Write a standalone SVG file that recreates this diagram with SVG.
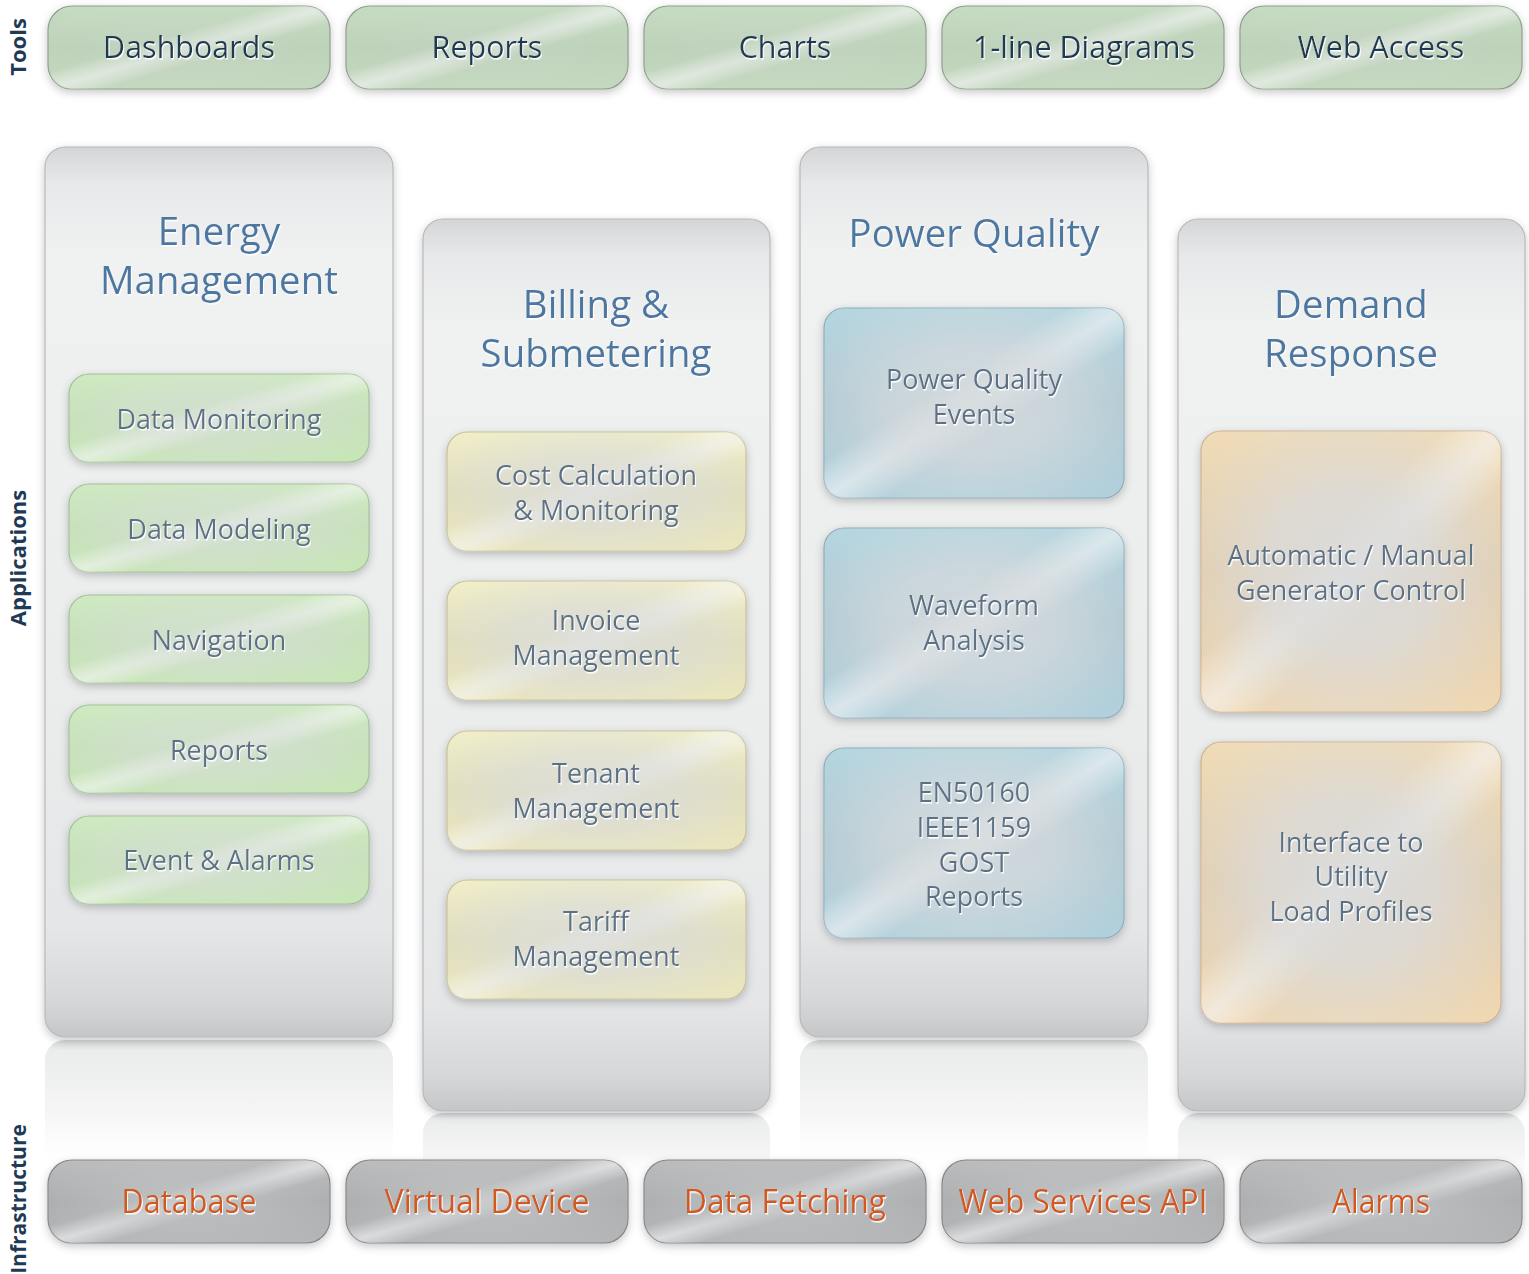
<svg xmlns="http://www.w3.org/2000/svg" width="1529" height="1274" viewBox="0 0 1529 1274">
<defs>
  <filter id="shadow" x="-10%" y="-10%" width="120%" height="130%">
    <feDropShadow dx="0" dy="3" stdDeviation="4" flood-color="#000" flood-opacity="0.22"/>
  </filter>
  <filter id="tshadow" x="-5%" y="-20%" width="110%" height="150%">
    <feDropShadow dx="1" dy="1.6" stdDeviation="0.4" flood-color="#ffffff" flood-opacity="0.95"/>
  </filter>
  <linearGradient id="colG" x1="0" y1="0" x2="0" y2="1">
    <stop offset="0" stop-color="#d4d5d7"/>
    <stop offset="0.04" stop-color="#e7e8e9"/>
    <stop offset="0.12" stop-color="#f0f1f1"/>
    <stop offset="0.6" stop-color="#ebecec"/>
    <stop offset="0.88" stop-color="#e5e6e7"/>
    <stop offset="0.96" stop-color="#d6d7d9"/>
    <stop offset="1" stop-color="#c5c6c8"/>
  </linearGradient>
  <linearGradient id="reflG" x1="0" y1="0" x2="0" y2="1">
    <stop offset="0" stop-color="#d8d9db"/>
    <stop offset="0.08" stop-color="#ebecec"/>
    <stop offset="0.6" stop-color="#f6f6f6"/>
    <stop offset="1" stop-color="#ffffff" stop-opacity="0"/>
  </linearGradient>
  <linearGradient id="streak" x1="0" y1="0" x2="1" y2="1">
    <stop offset="0" stop-color="#ffffff" stop-opacity="0"/>
    <stop offset="0.4" stop-color="#ffffff" stop-opacity="0"/>
    <stop offset="0.5" stop-color="#f4f5f6" stop-opacity="0.6"/>
    <stop offset="0.6" stop-color="#ffffff" stop-opacity="0"/>
    <stop offset="1" stop-color="#ffffff" stop-opacity="0"/>
  </linearGradient>
  <radialGradient id="centerGrey" cx="0.5" cy="0.5" r="0.62">
    <stop offset="0" stop-color="#dadcde" stop-opacity="1"/>
    <stop offset="0.45" stop-color="#dadcde" stop-opacity="0.85"/>
    <stop offset="1" stop-color="#dadcde" stop-opacity="0"/>
  </radialGradient>
  <radialGradient id="centerGreyTool" cx="0.5" cy="0.5" r="0.62">
    <stop offset="0" stop-color="#d0d6cf" stop-opacity="0.35"/>
    <stop offset="1" stop-color="#d0d6cf" stop-opacity="0"/>
  </radialGradient>
  <linearGradient id="green" x1="0" y1="0" x2="0" y2="1">
    <stop offset="0" stop-color="#cfeac2"/>
    <stop offset="0.5" stop-color="#c4e2b4"/>
    <stop offset="1" stop-color="#c8e6b8"/>
  </linearGradient>
  <linearGradient id="toolGreen" x1="0" y1="0" x2="0" y2="1">
    <stop offset="0" stop-color="#c6dcc2"/>
    <stop offset="0.5" stop-color="#bcd2b8"/>
    <stop offset="1" stop-color="#c4d9bf"/>
  </linearGradient>
  <linearGradient id="yellow" x1="0" y1="0" x2="0" y2="1">
    <stop offset="0" stop-color="#f0eecb"/>
    <stop offset="0.5" stop-color="#e4e0b6"/>
    <stop offset="1" stop-color="#eae6bf"/>
  </linearGradient>
  <linearGradient id="blue" x1="0" y1="0" x2="0" y2="1">
    <stop offset="0" stop-color="#b6d6e0"/>
    <stop offset="0.5" stop-color="#a9c7d2"/>
    <stop offset="1" stop-color="#b3d1dc"/>
  </linearGradient>
  <linearGradient id="orange" x1="0" y1="0" x2="0" y2="1">
    <stop offset="0" stop-color="#f0dcb8"/>
    <stop offset="0.5" stop-color="#e4cca8"/>
    <stop offset="1" stop-color="#efd8b4"/>
  </linearGradient>
  <linearGradient id="grey" x1="0" y1="0" x2="0" y2="1">
    <stop offset="0" stop-color="#bcbdbf"/>
    <stop offset="0.5" stop-color="#aaabad"/>
    <stop offset="1" stop-color="#b6b7b9"/>
  </linearGradient>
  <radialGradient id="greyCenter" cx="0.5" cy="0.5" r="0.6">
    <stop offset="0" stop-color="#c6c7c9" stop-opacity="0.8"/>
    <stop offset="1" stop-color="#c6c7c9" stop-opacity="0"/>
  </radialGradient>
  <style>
    .col { fill: url(#colG); stroke: #b7b8ba; stroke-width: 1.2; filter: url(#shadow); }
    .refl { fill: url(#reflG); }
    .tool { fill: url(#toolGreen); stroke: #8e9e8c; stroke-width: 1.2; }
    .infra { fill: url(#grey); stroke: #858688; stroke-width: 1.2; }
    .itG { fill: url(#green); stroke: #9fbf98; stroke-width: 1.2; }
    .itY { fill: url(#yellow); stroke: #c6bf98; stroke-width: 1.2; }
    .itB { fill: url(#blue); stroke: #8eadbb; stroke-width: 1.2; }
    .itO { fill: url(#orange); stroke: #cdb193; stroke-width: 1.2; }
    .st { fill: url(#streak); }
    .cg { fill: url(#centerGrey); }
    .cgt { fill: url(#centerGreyTool); }
    .gc { fill: url(#greyCenter); }
    .shd { filter: url(#shadow); }
    text { font-family: "Open Sans", "Noto Sans", sans-serif; text-anchor: middle; filter: url(#tshadow); }
    .tt { font-size: 30.5px; fill: #1f3a52; }
    .ct { font-size: 38.5px; fill: #4b77a1; }
    .it { font-size: 27px; fill: #5b7186; }
    .inf { font-size: 32px; fill: #d2581c; }
    .side { font-size: 22px; font-weight: bold; fill: #1f3a55; filter: none; }
  </style>
</defs>

<rect width="1529" height="1274" fill="#ffffff"/>

<!-- side labels -->
<g id="side-labels">
  <text class="side" transform="translate(26,47) rotate(-90)">Tools</text>
  <text class="side" transform="translate(26,558) rotate(-90)">Applications</text>
  <text class="side" transform="translate(26,1199) rotate(-90)" style="font-size:21px">Infrastructure</text>
</g>

<!-- reflections -->
<g id="reflections">
  <rect class="refl" x="45" y="1040" width="348" height="130" rx="20"/>
  <rect class="refl" x="800" y="1040" width="348" height="130" rx="20"/>
  <rect class="refl" x="423" y="1113" width="347" height="70" rx="20"/>
  <rect class="refl" x="1178" y="1113" width="347" height="70" rx="20"/>
</g>

<!-- tools row -->
<g id="tool-dashboards">
  <g class="shd"><rect class="tool" x="48" y="6" width="282" height="83" rx="24"/></g>
  <rect class="st" x="48" y="6" width="282" height="83" rx="24"/>
  <rect class="cgt" x="48" y="6" width="282" height="83" rx="24"/>
  <text class="tt" x="189" y="58">Dashboards</text>
</g>
<g id="tool-reports">
  <g class="shd"><rect class="tool" x="346" y="6" width="282" height="83" rx="24"/></g>
  <rect class="st" x="346" y="6" width="282" height="83" rx="24"/>
  <rect class="cgt" x="346" y="6" width="282" height="83" rx="24"/>
  <text class="tt" x="487" y="58">Reports</text>
</g>
<g id="tool-charts">
  <g class="shd"><rect class="tool" x="644" y="6" width="282" height="83" rx="24"/></g>
  <rect class="st" x="644" y="6" width="282" height="83" rx="24"/>
  <rect class="cgt" x="644" y="6" width="282" height="83" rx="24"/>
  <text class="tt" x="785" y="58">Charts</text>
</g>
<g id="tool-1line">
  <g class="shd"><rect class="tool" x="942" y="6" width="282" height="83" rx="24"/></g>
  <rect class="st" x="942" y="6" width="282" height="83" rx="24"/>
  <rect class="cgt" x="942" y="6" width="282" height="83" rx="24"/>
  <text class="tt" x="1084" y="58">1-line Diagrams</text>
</g>
<g id="tool-webaccess">
  <g class="shd"><rect class="tool" x="1240" y="6" width="282" height="83" rx="24"/></g>
  <rect class="st" x="1240" y="6" width="282" height="83" rx="24"/>
  <rect class="cgt" x="1240" y="6" width="282" height="83" rx="24"/>
  <text class="tt" x="1381" y="58">Web Access</text>
</g>

<!-- columns -->
<g id="col-energy">
  <rect class="col" x="45" y="147" width="348" height="890" rx="20"/>
  <text class="ct" x="219" y="245">Energy</text>
  <text class="ct" x="219" y="294">Management</text>
</g>
<g id="col-billing">
  <rect class="col" x="423" y="219" width="347" height="892" rx="20"/>
  <text class="ct" x="596" y="318">Billing &amp;</text>
  <text class="ct" x="596" y="367">Submetering</text>
</g>
<g id="col-pq">
  <rect class="col" x="800" y="147" width="348" height="890" rx="20"/>
  <text class="ct" x="974" y="247">Power Quality</text>
</g>
<g id="col-demand">
  <rect class="col" x="1178" y="219" width="347" height="892" rx="20"/>
  <text class="ct" x="1351" y="318">Demand</text>
  <text class="ct" x="1351" y="367">Response</text>
</g>

<!-- energy items -->
<g id="em-data-monitoring">
  <g class="shd"><rect class="itG" x="69" y="374" width="300" height="88" rx="20"/></g>
  <rect class="st" x="69" y="374" width="300" height="88" rx="20"/>
  <rect class="cg" x="69" y="374" width="300" height="88" rx="20" opacity="0.55"/>
  <text class="it" x="219" y="429">Data Monitoring</text>
</g>
<g id="em-data-modeling">
  <g class="shd"><rect class="itG" x="69" y="484" width="300" height="88" rx="20"/></g>
  <rect class="st" x="69" y="484" width="300" height="88" rx="20"/>
  <rect class="cg" x="69" y="484" width="300" height="88" rx="20" opacity="0.55"/>
  <text class="it" x="219" y="539">Data Modeling</text>
</g>
<g id="em-navigation">
  <g class="shd"><rect class="itG" x="69" y="595" width="300" height="88" rx="20"/></g>
  <rect class="st" x="69" y="595" width="300" height="88" rx="20"/>
  <rect class="cg" x="69" y="595" width="300" height="88" rx="20" opacity="0.55"/>
  <text class="it" x="219" y="650">Navigation</text>
</g>
<g id="em-reports">
  <g class="shd"><rect class="itG" x="69" y="705" width="300" height="88" rx="20"/></g>
  <rect class="st" x="69" y="705" width="300" height="88" rx="20"/>
  <rect class="cg" x="69" y="705" width="300" height="88" rx="20" opacity="0.55"/>
  <text class="it" x="219" y="760">Reports</text>
</g>
<g id="em-event-alarms">
  <g class="shd"><rect class="itG" x="69" y="816" width="300" height="88" rx="20"/></g>
  <rect class="st" x="69" y="816" width="300" height="88" rx="20"/>
  <rect class="cg" x="69" y="816" width="300" height="88" rx="20" opacity="0.55"/>
  <text class="it" x="219" y="870">Event &amp; Alarms</text>
</g>

<!-- billing items -->
<g id="bs-cost">
  <g class="shd"><rect class="itY" x="447" y="432" width="299" height="119" rx="20"/></g>
  <rect class="st" x="447" y="432" width="299" height="119" rx="20"/>
  <rect class="cg" x="447" y="432" width="299" height="119" rx="20" opacity="0.75"/>
  <text class="it" x="596" y="485">Cost Calculation</text>
  <text class="it" x="596" y="520">&amp; Monitoring</text>
</g>
<g id="bs-invoice">
  <g class="shd"><rect class="itY" x="447" y="581" width="299" height="119" rx="20"/></g>
  <rect class="st" x="447" y="581" width="299" height="119" rx="20"/>
  <rect class="cg" x="447" y="581" width="299" height="119" rx="20" opacity="0.75"/>
  <text class="it" x="596" y="630">Invoice</text>
  <text class="it" x="596" y="665">Management</text>
</g>
<g id="bs-tenant">
  <g class="shd"><rect class="itY" x="447" y="731" width="299" height="119" rx="20"/></g>
  <rect class="st" x="447" y="731" width="299" height="119" rx="20"/>
  <rect class="cg" x="447" y="731" width="299" height="119" rx="20" opacity="0.75"/>
  <text class="it" x="596" y="783">Tenant</text>
  <text class="it" x="596" y="818">Management</text>
</g>
<g id="bs-tariff">
  <g class="shd"><rect class="itY" x="447" y="880" width="299" height="119" rx="20"/></g>
  <rect class="st" x="447" y="880" width="299" height="119" rx="20"/>
  <rect class="cg" x="447" y="880" width="299" height="119" rx="20" opacity="0.75"/>
  <text class="it" x="596" y="931">Tariff</text>
  <text class="it" x="596" y="966">Management</text>
</g>

<!-- power quality items -->
<g id="pq-events">
  <g class="shd"><rect class="itB" x="824" y="308" width="300" height="190" rx="20"/></g>
  <rect class="st" x="824" y="308" width="300" height="190" rx="20"/>
  <rect class="cg" x="824" y="308" width="300" height="190" rx="20" opacity="0.8"/>
  <text class="it" x="974" y="389">Power Quality</text>
  <text class="it" x="974" y="424">Events</text>
</g>
<g id="pq-waveform">
  <g class="shd"><rect class="itB" x="824" y="528" width="300" height="190" rx="20"/></g>
  <rect class="st" x="824" y="528" width="300" height="190" rx="20"/>
  <rect class="cg" x="824" y="528" width="300" height="190" rx="20" opacity="0.8"/>
  <text class="it" x="974" y="615">Waveform</text>
  <text class="it" x="974" y="650">Analysis</text>
</g>
<g id="pq-standards">
  <g class="shd"><rect class="itB" x="824" y="748" width="300" height="190" rx="20"/></g>
  <rect class="st" x="824" y="748" width="300" height="190" rx="20"/>
  <rect class="cg" x="824" y="748" width="300" height="190" rx="20" opacity="0.8"/>
  <text class="it" x="974" y="802">EN50160</text>
  <text class="it" x="974" y="837">IEEE1159</text>
  <text class="it" x="974" y="872">GOST</text>
  <text class="it" x="974" y="906">Reports</text>
</g>

<!-- demand response items -->
<g id="dr-generator">
  <g class="shd"><rect class="itO" x="1201" y="431" width="300" height="281" rx="20"/></g>
  <rect class="st" x="1201" y="431" width="300" height="281" rx="20"/>
  <rect class="cg" x="1201" y="431" width="300" height="281" rx="20" opacity="0.9"/>
  <text class="it" x="1351" y="565">Automatic / Manual</text>
  <text class="it" x="1351" y="600">Generator Control</text>
</g>
<g id="dr-interface">
  <g class="shd"><rect class="itO" x="1201" y="742" width="300" height="281" rx="20"/></g>
  <rect class="st" x="1201" y="742" width="300" height="281" rx="20"/>
  <rect class="cg" x="1201" y="742" width="300" height="281" rx="20" opacity="0.9"/>
  <text class="it" x="1351" y="852">Interface to</text>
  <text class="it" x="1351" y="886">Utility</text>
  <text class="it" x="1351" y="921">Load Profiles</text>
</g>

<!-- infrastructure row -->
<g id="infra-database">
  <g class="shd"><rect class="infra" x="48" y="1160" width="282" height="83" rx="24"/></g>
  <rect class="st" x="48" y="1160" width="282" height="83" rx="24"/>
  <rect class="gc" x="48" y="1160" width="282" height="83" rx="24"/>
  <text class="inf" x="189" y="1213" textLength="135" lengthAdjust="spacingAndGlyphs">Database</text>
</g>
<g id="infra-virtual-device">
  <g class="shd"><rect class="infra" x="346" y="1160" width="282" height="83" rx="24"/></g>
  <rect class="st" x="346" y="1160" width="282" height="83" rx="24"/>
  <rect class="gc" x="346" y="1160" width="282" height="83" rx="24"/>
  <text class="inf" x="487" y="1213" textLength="205" lengthAdjust="spacingAndGlyphs">Virtual Device</text>
</g>
<g id="infra-data-fetching">
  <g class="shd"><rect class="infra" x="644" y="1160" width="282" height="83" rx="24"/></g>
  <rect class="st" x="644" y="1160" width="282" height="83" rx="24"/>
  <rect class="gc" x="644" y="1160" width="282" height="83" rx="24"/>
  <text class="inf" x="785" y="1213" textLength="202" lengthAdjust="spacingAndGlyphs">Data Fetching</text>
</g>
<g id="infra-web-services">
  <g class="shd"><rect class="infra" x="942" y="1160" width="282" height="83" rx="24"/></g>
  <rect class="st" x="942" y="1160" width="282" height="83" rx="24"/>
  <rect class="gc" x="942" y="1160" width="282" height="83" rx="24"/>
  <text class="inf" x="1083" y="1213" textLength="249" lengthAdjust="spacingAndGlyphs">Web Services API</text>
</g>
<g id="infra-alarms">
  <g class="shd"><rect class="infra" x="1240" y="1160" width="282" height="83" rx="24"/></g>
  <rect class="st" x="1240" y="1160" width="282" height="83" rx="24"/>
  <rect class="gc" x="1240" y="1160" width="282" height="83" rx="24"/>
  <text class="inf" x="1381" y="1213" textLength="98" lengthAdjust="spacingAndGlyphs">Alarms</text>
</g>

<g id="connectors"></g>
</svg>
